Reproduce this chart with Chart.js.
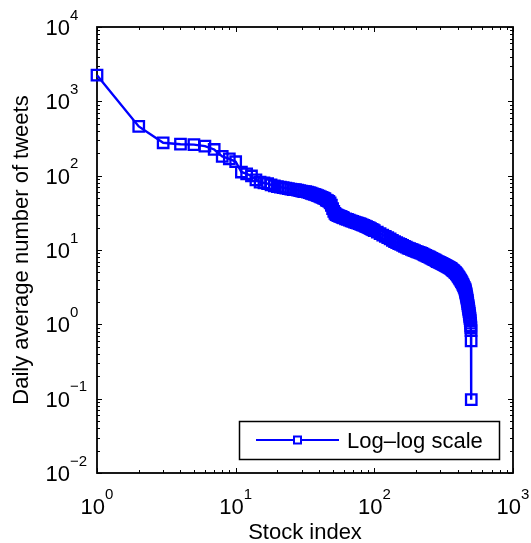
<!DOCTYPE html>
<html>
<head>
<meta charset="utf-8">
<script src="https://cdn.jsdelivr.net/npm/chart.js@4.4.1/dist/chart.umd.min.js"></script>
<style>
  html, body { margin: 0; padding: 0; background: #fff; }
  #wrap { width: 531px; height: 543px; }
</style>
</head>
<body>
<div id="wrap"><canvas id="chart" width="531" height="543"></canvas></div>
<script>
// stock rank (x) and daily average tweets (y)
var stockIndex = [
    1, 2, 3, 4, 5, 6, 7, 8, 9, 10,
    11, 12, 13, 14, 15, 16, 17, 18, 19, 20,
    21, 22, 23, 24, 25, 26, 27, 28, 29, 30,
    31, 32, 33, 34, 35, 36, 37, 38, 39, 40,
    41, 42, 43, 44, 45, 46, 47, 48, 49, 50,
    51, 52, 53, 54, 55, 56, 57, 58, 59, 60,
    62, 64, 66, 68, 70, 72, 74, 76, 78, 80,
    82, 84, 86, 88, 90, 92, 94, 96, 98, 100,
    105, 110, 115, 120, 125, 130, 135, 140, 145, 150,
    155, 160, 165, 170, 175, 180, 185, 190, 195, 200,
    205, 210, 215, 220, 225, 230, 235, 240, 245, 250,
    255, 260, 265, 270, 275, 280, 285, 290, 295, 300,
    305, 310, 315, 320, 325, 330, 335, 340, 345, 350,
    355, 360, 365, 370, 375, 380, 385, 390, 395, 400,
    405, 410, 415, 420, 425, 430, 435, 440, 445, 450,
    452, 454, 456, 458, 460, 462, 464, 466, 468, 470,
    472, 474, 476, 478, 480, 482, 484, 486, 488, 490,
    492, 494, 496, 497, 498, 499, 500
];
var dailyTweets = [
    2250, 460, 277, 265, 262, 250, 225, 182, 168, 154,
    112, 106, 99, 88, 82, 80, 78, 75, 73, 71,
    70, 69, 68, 67, 66, 65, 65, 64, 63, 62,
    61, 61, 60, 59, 58, 57, 56, 55, 54, 53,
    52, 51, 50, 49, 47, 46, 45, 43, 40, 36,
    33, 31, 30, 29.5, 29, 28.6, 28.3, 28, 27.5, 27,
    26.3, 25.8, 25.2, 24.7, 24.2, 23.8, 23.4, 23.0, 22.6, 22.2,
    21.8, 21.4, 21.0, 20.6, 20.2, 19.8, 19.4, 19.0, 18.6, 18.2,
    17.4, 16.6, 15.9, 15.3, 14.7, 14.1, 13.5, 13.0, 12.6, 12.2,
    11.9, 11.5, 11.2, 10.9, 10.6, 10.4, 10.2, 10.0, 9.8, 9.6,
    9.45, 9.3, 9.15, 9.0, 8.8, 8.6, 8.45, 8.3, 8.15, 8.0,
    7.85, 7.7, 7.55, 7.4, 7.3, 7.15, 7.0, 6.9, 6.8, 6.7,
    6.6, 6.5, 6.4, 6.3, 6.2, 6.1, 6.0, 5.95, 5.85, 5.75,
    5.65, 5.55, 5.4, 5.3, 5.2, 5.05, 4.95, 4.8, 4.65, 4.5,
    4.35, 4.2, 4.05, 3.9, 3.75, 3.6, 3.45, 3.3, 3.15, 3.0,
    2.9, 2.8, 2.7, 2.6, 2.5, 2.4, 2.3, 2.2, 2.1, 2.0,
    1.9, 1.8, 1.72, 1.64, 1.56, 1.48, 1.4, 1.33, 1.26, 1.19,
    1.12, 1.04, 0.95, 0.9, 0.82, 0.6, 0.097
];

var xTickValues = [1, 10, 100, 1000];
var xTickExponents = ['0', '1', '2', '3'];
var yTickValues = [0.01, 0.1, 1, 10, 100, 1000, 10000];
var yTickExponents = ['\u22122', '\u22121', '0', '1', '2', '3', '4'];

var seriesLabel = 'Log\u2013log scale';
var xTitle = 'Stock index';
var yTitle = 'Daily average number of tweets';

var FONT = "'Liberation Sans', Arial, Helvetica, sans-serif";
var BLUE = '#0000ff';

// every k * 10^d that falls inside [min, max]
var logTicks = function (min, max) {
    var out = [];
    for (var d = Math.floor(Math.log10(min)); d <= Math.ceil(Math.log10(max)); d++) {
        for (var k = 1; k <= 9; k++) {
            var v = k * Math.pow(10, d);
            if (v >= min * 0.999 && v <= max * 1.001) {
                out.push({ value: v, major: k === 1 });
            }
        }
    }
    return out;
};

var matlabAxes = {
    id: 'matlabAxes',
    beforeDatasetsDraw: function (chart) {
        var ctx = chart.ctx, a = chart.chartArea;
        var xs = chart.scales.x, ys = chart.scales.y;
        ctx.save();
        ctx.strokeStyle = '#000';
        ctx.lineWidth = 1;
        ctx.beginPath();
        logTicks(xs.min, xs.max).forEach(function (t) {
            var px = Math.round(xs.getPixelForValue(t.value)) + 0.5;
            var len = t.major ? 5 : 3;
            ctx.moveTo(px, a.bottom); ctx.lineTo(px, a.bottom - len);
            ctx.moveTo(px, a.top); ctx.lineTo(px, a.top + len);
        });
        logTicks(ys.min, ys.max).forEach(function (t) {
            var py = Math.round(ys.getPixelForValue(t.value)) + 0.5;
            var len = t.major ? 5 : 3;
            ctx.moveTo(a.left, py); ctx.lineTo(a.left + len, py);
            ctx.moveTo(a.right, py); ctx.lineTo(a.right - len, py);
        });
        ctx.stroke();
        ctx.lineWidth = 1.8;
        ctx.strokeRect(a.left, a.top, a.right - a.left, a.bottom - a.top);
        ctx.restore();
    },
    afterDraw: function (chart) {
        var ctx = chart.ctx, a = chart.chartArea;
        var xs = chart.scales.x, ys = chart.scales.y;
        ctx.save();
        ctx.fillStyle = '#000';
        ctx.textBaseline = 'alphabetic';

        // x tick labels, whole "10^n" centred under the tick
        xTickValues.forEach(function (v, i) {
            var px = xs.getPixelForValue(v);
            ctx.font = '22px ' + FONT;
            var wBase = ctx.measureText('10').width;
            ctx.font = '15px ' + FONT;
            var wExp = ctx.measureText(xTickExponents[i]).width;
            var x0 = px - (wBase + wExp) / 2;
            var base = a.bottom + 41;
            ctx.textAlign = 'left';
            ctx.font = '22px ' + FONT;
            ctx.fillText('10', x0, base);
            ctx.font = '15px ' + FONT;
            ctx.fillText(xTickExponents[i], x0 + wBase, base - 15.5);
        });

        // y tick labels, "10" at a fixed column, exponent after it
        yTickValues.forEach(function (v, i) {
            var py = ys.getPixelForValue(v);
            var base = py + 8;
            ctx.font = '22px ' + FONT;
            ctx.textAlign = 'right';
            ctx.fillText('10', a.left - 27, base);
            ctx.font = '15px ' + FONT;
            ctx.textAlign = 'left';
            ctx.fillText(yTickExponents[i], a.left - 27, base - 15.5);
        });

        // axis titles
        ctx.font = '22px ' + FONT;
        ctx.textAlign = 'center';
        ctx.fillText(xTitle, (a.left + a.right) / 2, 539);
        ctx.save();
        ctx.translate(28, (a.top + a.bottom) / 2);
        ctx.rotate(-Math.PI / 2);
        ctx.fillText(yTitle, 0, 0);
        ctx.restore();

        // legend box in the lower right corner
        var bx = 239.5, by = 421.5, bw = 260, bh = 38;
        ctx.fillStyle = '#fff';
        ctx.fillRect(bx, by, bw, bh);
        ctx.strokeStyle = '#000';
        ctx.lineWidth = 1.5;
        ctx.strokeRect(bx, by, bw, bh);
        ctx.strokeStyle = BLUE;
        ctx.lineWidth = 2.2;
        ctx.beginPath();
        ctx.moveTo(256, 440);
        ctx.lineTo(339, 440);
        ctx.stroke();
        ctx.fillStyle = '#fff';
        ctx.fillRect(294, 436.5, 7, 7);
        ctx.lineWidth = 2;
        ctx.strokeRect(294, 436.5, 7, 7);
        ctx.fillStyle = '#000';
        ctx.font = '22px ' + FONT;
        ctx.textAlign = 'left';
        ctx.fillText(seriesLabel, 347, 448);
        ctx.restore();
    }
};

var points = stockIndex.map(function (x, i) {
    return { x: x, y: dailyTweets[i] };
});

new Chart(document.getElementById('chart').getContext('2d'), {
    type: 'line',
    data: {
        datasets: [{
            label: seriesLabel,
            data: points,
            borderColor: BLUE,
            borderWidth: 2.4,
            pointStyle: 'rect',
            pointRadius: 7.4,
            pointBorderWidth: 2.3,
            pointBorderColor: BLUE,
            pointBackgroundColor: 'rgba(0,0,0,0)',
            tension: 0,
            clip: false
        }]
    },
    options: {
        responsive: false,
        animation: false,
        events: [],
        layout: { padding: { left: 97, right: 18, top: 27, bottom: 70 } },
        plugins: { legend: { display: false }, tooltip: { enabled: false } },
        scales: {
            x: { type: 'logarithmic', min: 1, max: 1000, display: false },
            y: { type: 'logarithmic', min: 0.01, max: 10000, display: false }
        }
    },
    plugins: [matlabAxes]
});
</script>
</body>
</html>
